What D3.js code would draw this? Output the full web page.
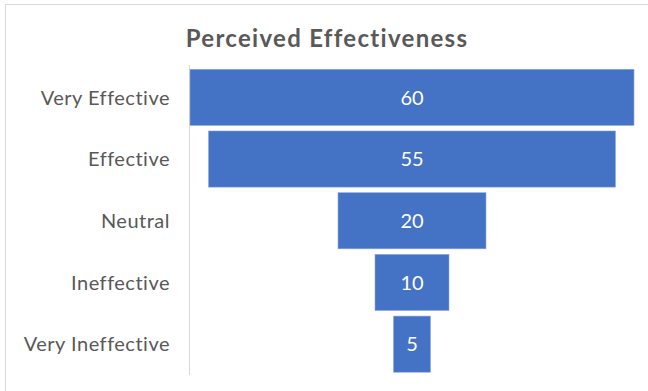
<!DOCTYPE html>
<html>
<head>
<meta charset="utf-8">
<script src="https://cdn.jsdelivr.net/npm/d3@7"></script>
<style>
  html, body { margin: 0; padding: 0; background: #fff; }
  svg { display: block; }
</style>
</head>
<body>
<svg id="chart" width="648" height="391"></svg>
<script>
const title = "Perceived Effectiveness";
const categories = ["Very Effective", "Effective", "Neutral", "Ineffective", "Very Ineffective"];
const values = [60, 55, 20, 10, 5];

const W = 648, H = 391;
const svg = d3.select("#chart");

// chart frame (right/bottom edges fall outside the picture)
svg.append("rect")
  .attr("x", 5.5).attr("y", 4.5)
  .attr("width", W + 10).attr("height", H + 10)
  .attr("fill", "#fff").attr("stroke", "#d9d9d9").attr("stroke-width", 1);

const center = 412;
const halfMax = 222;

const x = d3.scaleLinear().domain([0, d3.max(values)]).range([0, 2 * halfMax]);
const y = d3.scaleBand().domain(categories).range([66.5, 375]).paddingInner(0.09).paddingOuter(0.045);

// title
svg.append("text")
  .attr("x", 327).attr("y", 47)
  .attr("text-anchor", "middle")
  .attr("font-family", "Lato, 'Open Sans', sans-serif")
  .attr("font-weight", 700)
  .attr("font-size", 24)
  .attr("letter-spacing", 1.3)
  .attr("fill", "#595959")
  .text(title);

// category axis line
svg.append("line")
  .attr("x1", 189.5).attr("x2", 189.5)
  .attr("y1", 65).attr("y2", 375)
  .attr("stroke", "#d9d9d9").attr("stroke-width", 1);

// bars
svg.append("g").selectAll("rect")
  .data(values)
  .join("rect")
  .attr("x", d => center - x(d) / 2)
  .attr("y", (d, i) => y(categories[i]))
  .attr("width", d => x(d))
  .attr("height", y.bandwidth())
  .attr("fill", "#4472c4")
  .attr("stroke", "#8faadc")
  .attr("stroke-width", 0.6);

// value labels
svg.append("g").selectAll("text")
  .data(values)
  .join("text")
  .attr("x", center)
  .attr("y", (d, i) => y(categories[i]) + y.bandwidth() / 2)
  .attr("dy", "0.36em")
  .attr("text-anchor", "middle")
  .attr("font-family", "Lato, 'Open Sans', sans-serif")
  .attr("font-size", 20)
  .attr("fill", "#ffffff")
  .text(d => d);

// category labels
svg.append("g").selectAll("text")
  .data(categories)
  .join("text")
  .attr("x", 170)
  .attr("y", d => y(d) + y.bandwidth() / 2)
  .attr("dy", "0.36em")
  .attr("text-anchor", "end")
  .attr("font-family", "Lato, 'Open Sans', sans-serif")
  .attr("font-size", 20)
  .attr("letter-spacing", 0.5)
  .attr("fill", "#595959")
  .text(d => d);
</script>
</body>
</html>
